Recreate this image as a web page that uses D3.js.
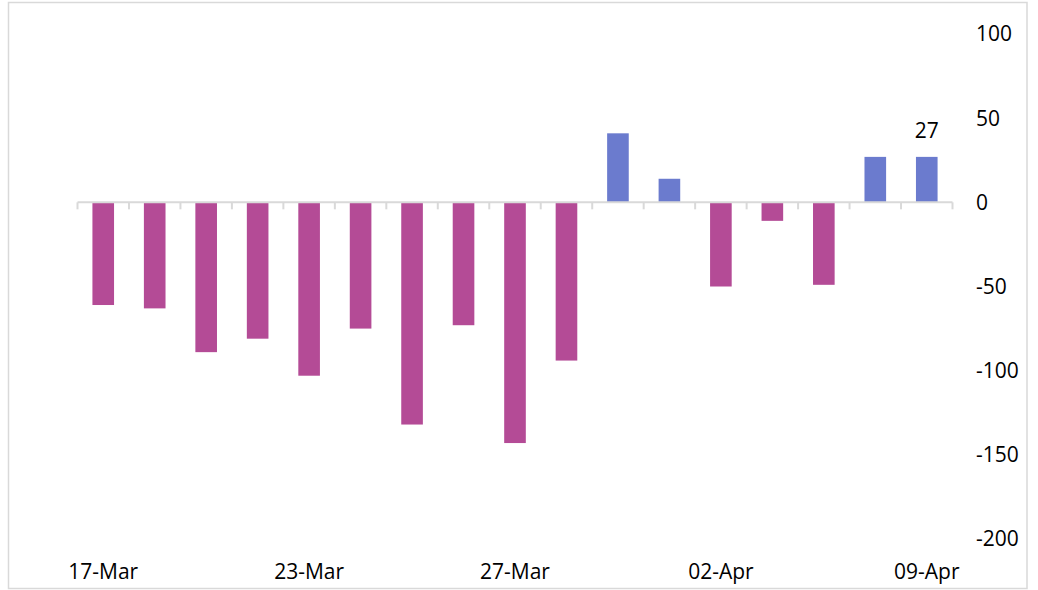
<!DOCTYPE html>
<html>
<head>
<meta charset="utf-8">
<script src="https://cdn.jsdelivr.net/npm/d3@7"></script>
<style>
  html, body { margin: 0; padding: 0; background: #fff; }
  svg { display: block; }
  text { font-family: "Open Sans", "Noto Sans", sans-serif; fill: #000; }
</style>
</head>
<body>
<svg id="chart" width="1038" height="590"></svg>
<script>
// Daily net flows (business days)
const dates = ["17-Mar","18-Mar","19-Mar","20-Mar","23-Mar","24-Mar","25-Mar","26-Mar",
               "27-Mar","30-Mar","31-Mar","01-Apr","02-Apr","03-Apr","07-Apr","08-Apr","09-Apr"];
const values = [-61, -63, -89, -81, -103, -75, -132, -73,
                -143, -94, 41, 14, -50, -11, -49, 27, 27];
const yTicks = [100, 50, 0, -50, -100, -150, -200];
const shownDates = ["17-Mar", "23-Mar", "27-Mar", "02-Apr", "09-Apr"];
const labelledDates = ["09-Apr"];

const svg = d3.select("#chart");
const fontSize = 21;

// outer frame
svg.append("rect")
  .attr("x", 8.5).attr("y", 2.5)
  .attr("width", 1018.5).attr("height", 586)
  .attr("fill", "none").attr("stroke", "#d9d9d9").attr("stroke-width", 1.5);

const x = d3.scaleBand()
  .domain(dates)
  .range([77.5, 952.5])
  .paddingInner(0.58)
  .paddingOuter(0.29);

const y = d3.scaleLinear()
  .domain([-200, 100])
  .range([539, 34]);

// bars
svg.append("g").selectAll("rect")
  .data(values)
  .join("rect")
  .attr("x", (d, i) => x(dates[i]))
  .attr("width", x.bandwidth())
  .attr("y", d => y(Math.max(0, d)))
  .attr("height", d => Math.abs(y(d) - y(0)))
  .attr("fill", d => d >= 0 ? "#6b7bce" : "#b44b96");

// category axis along zero line
const step = x.step();
const x0 = x.range()[0];
const axis = svg.append("g").attr("stroke", "#d9d9d9").attr("stroke-width", 2);
axis.append("line")
  .attr("x1", x0).attr("x2", x.range()[1])
  .attr("y1", y(0)).attr("y2", y(0));
axis.selectAll("line.tick")
  .data(d3.range(dates.length + 1))
  .join("line")
  .attr("class", "tick")
  .attr("x1", i => x0 + i * step).attr("x2", i => x0 + i * step)
  .attr("y1", y(0)).attr("y2", y(0) + 7);

// date labels along the bottom
svg.append("g").selectAll("text")
  .data(shownDates)
  .join("text")
  .attr("x", d => x(d) + x.bandwidth() / 2)
  .attr("y", 579)
  .attr("text-anchor", "middle")
  .attr("font-size", fontSize)
  .text(d => d);

// value axis on the right (labels only)
svg.append("g").selectAll("text")
  .data(yTicks)
  .join("text")
  .attr("x", 976)
  .attr("y", d => y(d))
  .attr("dy", "0.35em")
  .attr("font-size", fontSize)
  .text(d => d);

// data label
svg.append("g").selectAll("text")
  .data(labelledDates)
  .join("text")
  .attr("x", d => x(d) + x.bandwidth() / 2)
  .attr("y", d => y(values[dates.indexOf(d)]) - 19)
  .attr("text-anchor", "middle")
  .attr("font-size", fontSize)
  .text(d => values[dates.indexOf(d)]);
</script>
</body>
</html>
